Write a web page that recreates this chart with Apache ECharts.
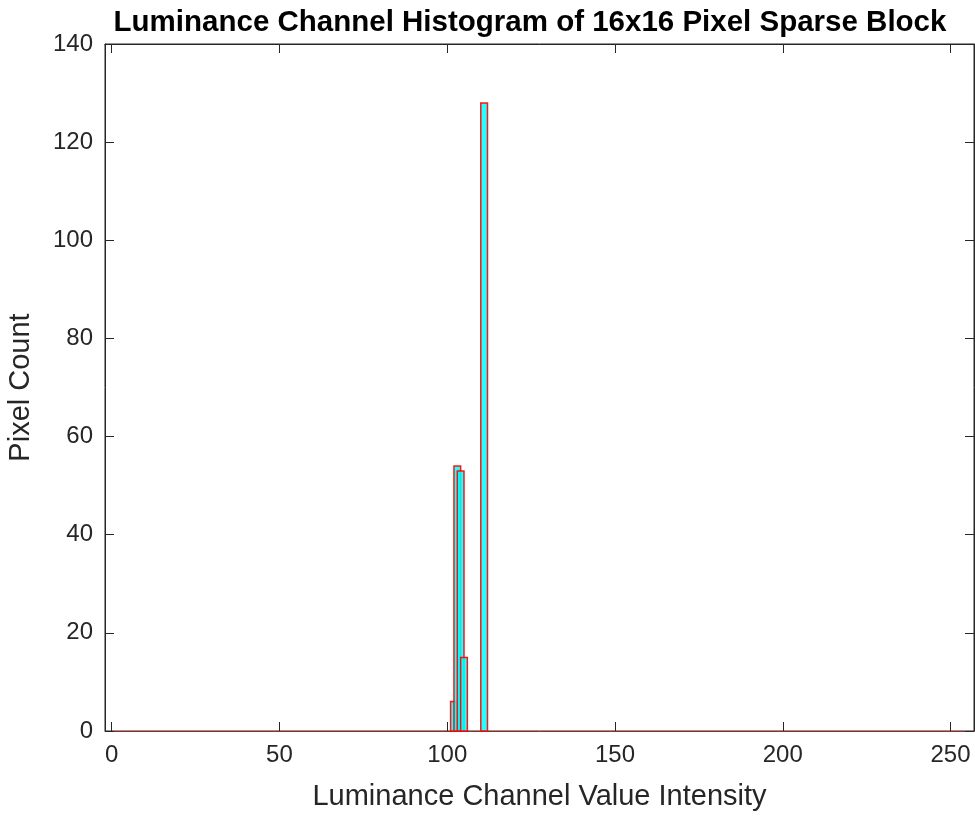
<!DOCTYPE html>
<html>
<head>
<meta charset="utf-8">
<script src="https://cdn.jsdelivr.net/npm/echarts@6/dist/echarts.min.js"></script>
<style>
  html, body { margin: 0; padding: 0; background: #fff; }
  #histChart { width: 975px; height: 816px; }
</style>
</head>
<body>
<div id="histChart"></div>
<script>
// histogram bins (luminance value) and their pixel counts
let binValues = [102, 103, 104, 105, 111];
let pixelCounts = [6, 54, 53, 15, 128];
let xTicks = [0, 50, 100, 150, 200, 250];
let yTicks = [0, 20, 40, 60, 80, 100, 120, 140];

const histChart = echarts.init(document.getElementById('histChart'));
histChart.setOption(histOption());

function histOption() {
  let font = 'Liberation Sans, Arial, sans-serif';
  let data = binValues.map((v, i) => [v, pixelCounts[i]]);
  return {
    animation: false,
    backgroundColor: '#fff',
    title: {
      text: 'Luminance Channel Histogram of 16x16 Pixel Sparse Block',
      left: 525,
      textAlign: 'center',
      top: 3,
      textStyle: { color: '#000', fontSize: 29.5, fontWeight: 'bold', fontFamily: font }
    },
    grid: { left: 105, right: 1, top: 44, bottom: 85, show: true, borderColor: '#262626', borderWidth: 1,
      outerBoundsMode: 'none', containLabel: false },
    xAxis: [
      {
        type: 'value',
        min: -2,
        max: 257,
        name: 'Luminance Channel Value Intensity',
        nameLocation: 'middle',
        nameGap: 51,
        nameTextStyle: { color: '#262626', fontSize: 29, fontFamily: font },
        axisLine: { show: true, onZero: false, lineStyle: { color: '#9a2a2a', width: 1 } },
        axisTick: { show: true, inside: true, length: 9, lineStyle: { color: '#262626' },
          customValues: xTicks },
        axisLabel: { color: '#262626', fontSize: 24, fontFamily: font, margin: 12,
          customValues: xTicks },
        splitLine: { show: false }
      },
      {
        type: 'value',
        position: 'top',
        min: -2,
        max: 257,
        axisLine: { show: true, onZero: false, lineStyle: { color: '#262626' } },
        axisTick: { show: true, inside: true, length: 9, lineStyle: { color: '#262626' }, customValues: xTicks },
        axisLabel: { show: false },
        splitLine: { show: false }
      }
    ],
    yAxis: [
      {
        type: 'value',
        min: 0,
        max: 140,
        interval: 20,
        name: 'Pixel Count',
        nameLocation: 'middle',
        nameGap: 70,
        nameTextStyle: { color: '#262626', fontSize: 29, fontFamily: font },
        axisLine: { show: true, onZero: false, lineStyle: { color: '#262626' } },
        axisTick: { show: true, inside: true, length: 9, lineStyle: { color: '#262626' },
          customValues: yTicks },
        axisLabel: { color: '#262626', fontSize: 24, fontFamily: font, margin: 12,
          customValues: yTicks },
        splitLine: { show: false }
      },
      {
        type: 'value',
        position: 'right',
        min: 0,
        max: 140,
        interval: 20,
        axisLine: { show: true, onZero: false, lineStyle: { color: '#262626' } },
        axisTick: { show: true, inside: true, length: 9, lineStyle: { color: '#262626' } },
        axisLabel: { show: false },
        splitLine: { show: false }
      }
    ],
    series: [
      {
        type: 'custom',
        xAxisIndex: 0,
        yAxisIndex: 0,
        data: data,
        renderItem: function (params, api) {
          let x = api.value(0);
          let y = api.value(1);
          let p0 = api.coord([x - 1, y]);
          let p1 = api.coord([x + 1, 0]);
          return {
            type: 'rect',
            shape: { x: p0[0], y: p0[1], width: p1[0] - p0[0], height: p1[1] - p0[1] },
            style: { fill: 'rgba(0,255,255,0.85)', stroke: 'rgba(255,0,0,0.9)', lineWidth: 1.5 }
          };
        }
      }
    ]
  };
}
</script>
</body>
</html>
